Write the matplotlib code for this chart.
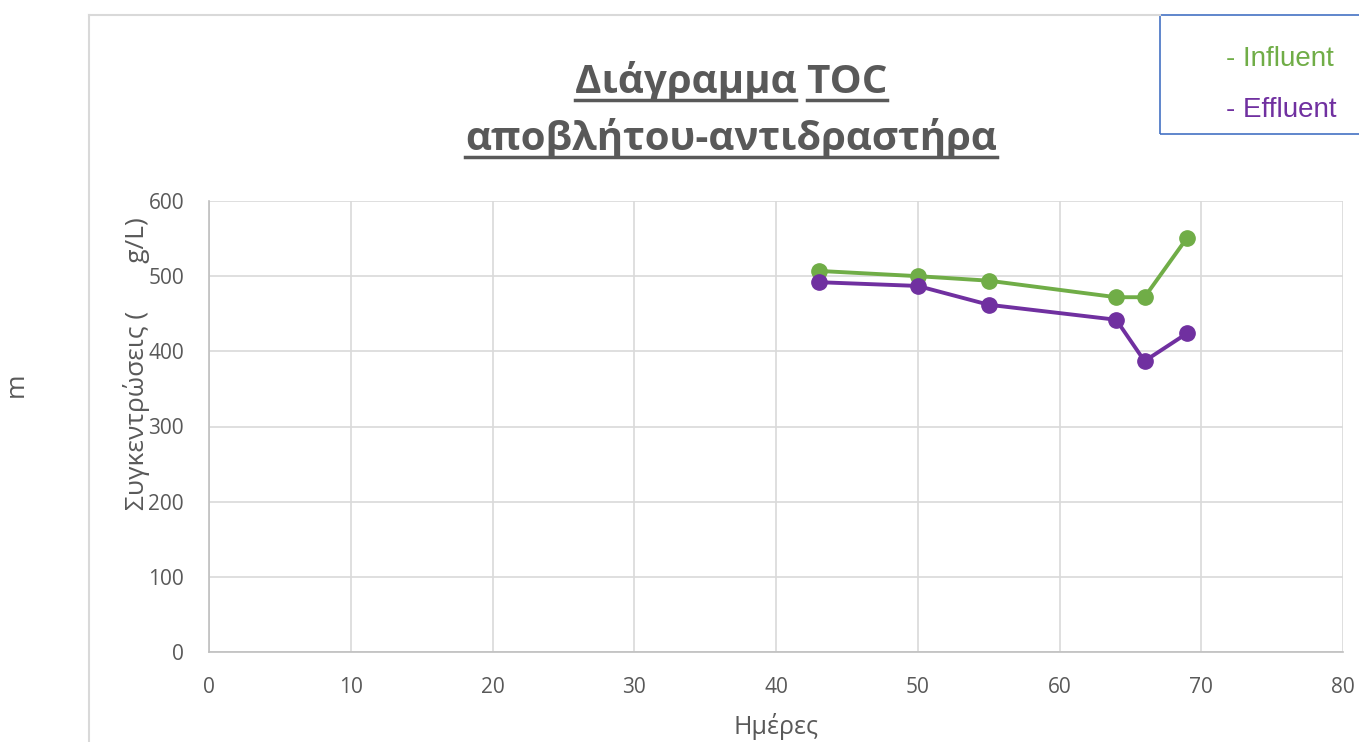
import matplotlib.pyplot as plt
from matplotlib.lines import Line2D
from matplotlib.patches import Rectangle

# data
days = [43, 50, 55, 64, 66, 69]
influent = [507, 500, 494, 472, 472, 551]
effluent = [492, 487, 462, 442, 387, 424]

x_ticks = [0, 10, 20, 30, 40, 50, 60, 70, 80]
y_ticks = [0, 100, 200, 300, 400, 500, 600]

GREEN = "#70ad47"
PURPLE = "#7030a0"
TXT = "#595959"
GRID = "#d9d9d9"
TITLE_FS = 29

plt.rcParams['font.family'] = ['Open Sans', 'DejaVu Sans']

W, H = 1359, 742
fig = plt.figure(figsize=(W / 100, H / 100), dpi=100)


def px(x, y):
    # pixel coords (top-left origin) -> figure fraction
    return x / W, 1 - y / H


# outer chart frame (only the visible parts)
fig.add_artist(Line2D([89 / W, 1160 / W], [1 - 15 / H, 1 - 15 / H],
                      color=GRID, lw=1.5, transform=fig.transFigure))
fig.add_artist(Line2D([89 / W, 89 / W], [1 - 15 / H, 0],
                      color=GRID, lw=1.5, transform=fig.transFigure))

l, b = px(209, 652)
r, t = px(1343, 201)
ax = fig.add_axes([l, b, r - l, t - b])

ax.plot(days, influent, color=GREEN, lw=2.8, marker='o', markersize=11, zorder=3)
ax.plot(days, effluent, color=PURPLE, lw=2.8, marker='o', markersize=11, zorder=3)

ax.set_xlim(0, 80)
ax.set_ylim(0, 600)
ax.set_xticks(x_ticks)
ax.set_yticks(y_ticks)
ax.grid(True, color=GRID, lw=1.2)
ax.set_axisbelow(True)
for s in ['top', 'right']:
    ax.spines[s].set_visible(False)
for s in ['left', 'bottom']:
    ax.spines[s].set_color("#bfbfbf")
    ax.spines[s].set_linewidth(1.2)
ax.tick_params(length=0, colors=TXT, labelsize=15)
ax.tick_params(axis='x', pad=18)
ax.tick_params(axis='y', pad=18)

fig.text(*px(776, 727), "Ημέρες", ha='center', va='center', color=TXT, fontsize=18)
fig.text(*px(137, 364), "Συγκεντρώσεις (       g/L)", rotation=90,
         ha='center', va='center', color=TXT, fontsize=19)
fig.text(*px(16, 385), "m", rotation=90, ha='center', va='center',
         color=TXT, fontsize=19)

# title with underlines
t1 = fig.text(*px(731, 93), "Διάγραμμα TOC", ha='center', va='baseline',
              color=TXT, fontsize=TITLE_FS, fontweight='bold')
t2 = fig.text(*px(731, 150), "αποβλήτου-αντιδραστήρα", ha='center', va='baseline',
              color=TXT, fontsize=TITLE_FS, fontweight='bold')

fig.canvas.draw()
rend = fig.canvas.get_renderer()


def text_width(s):
    tmp = fig.text(0, 0, s, fontsize=TITLE_FS, fontweight='bold')
    w = tmp.get_window_extent(rend).width
    tmp.remove()
    return w


bb1 = t1.get_window_extent(rend)
w_word = text_width("Διάγραμμα")
w_toc = text_width("TOC")
bb2 = t2.get_window_extent(rend)


def uline(x0, x1, ypix):
    fig.add_artist(Line2D([x0 / W, x1 / W], [1 - ypix / H, 1 - ypix / H],
                          color=TXT, lw=2.5, transform=fig.transFigure))


uline(bb1.x0, bb1.x0 + w_word, 100)
uline(bb1.x1 - w_toc, bb1.x1, 100)
uline(bb2.x0, bb2.x1, 157)

# legend box
fig.add_artist(Rectangle(px(1160, 134), 210 / W, 119 / H, fill=False,
                         edgecolor="#4472c4", lw=1.2, transform=fig.transFigure))
fig.text(*px(1226, 59), "- Influent", color=GREEN, fontsize=20,
         ha='left', va='center', family=['Liberation Sans', 'DejaVu Sans'])
fig.text(*px(1226, 110), "- Effluent", color=PURPLE, fontsize=20,
         ha='left', va='center', family=['Liberation Sans', 'DejaVu Sans'])

fig.savefig("out.png", dpi=100)
